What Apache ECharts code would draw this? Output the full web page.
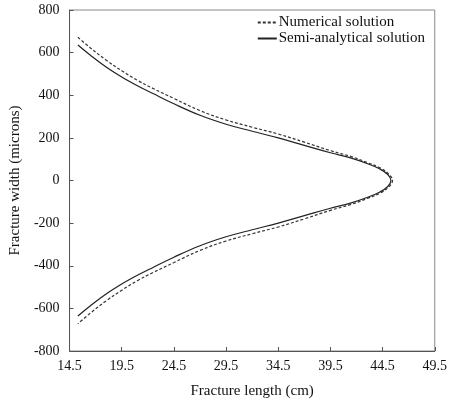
<!DOCTYPE html>
<html>
<head>
<meta charset="utf-8">
<script src="https://cdn.jsdelivr.net/npm/echarts@6/dist/echarts.min.js"></script>
<style>
  html, body { margin: 0; padding: 0; background: #fff; }
  #chart { width: 450px; height: 404px; }
</style>
</head>
<body>
<div id="chart"></div>
<script>
// Fracture profile: length (cm) vs width (microns)
const numLength = [15.3, 16.5, 18.0, 19.5, 21.0, 22.5, 24.5, 27.0, 29.5, 32.0, 34.5, 37.0, 39.5, 41.5, 43.0, 44.3, 45.1, 45.45,
                   45.1, 44.3, 43.0, 41.5, 39.5, 37.0, 34.5, 32.0, 29.5, 27.0, 24.5, 22.5, 21.0, 19.5, 18.0, 16.5, 15.3];
const numWidth = [672, 622, 565, 515, 470, 432, 385, 328, 284, 250, 218, 180, 140, 112, 85, 58, 30, 0,
                  -30, -58, -85, -112, -140, -180, -218, -250, -284, -328, -385, -432, -470, -515, -565, -622, -672];
const semiLength = [15.3, 16.5, 18.0, 19.5, 21.0, 22.5, 24.5, 27.0, 29.5, 32.0, 34.5, 37.0, 39.5, 41.5, 43.0, 44.2, 45.0, 45.3,
                    45.0, 44.2, 43.0, 41.5, 39.5, 37.0, 34.5, 32.0, 29.5, 27.0, 24.5, 22.5, 21.0, 19.5, 18.0, 16.5, 15.3];
const semiWidth = [636, 588, 533, 486, 445, 408, 360, 306, 264, 231, 200, 165, 130, 105, 80, 55, 28, 0,
                   -28, -55, -80, -105, -130, -165, -200, -231, -264, -306, -360, -408, -445, -486, -533, -588, -636];

const FONT = '"Liberation Serif", "DejaVu Serif", serif';
const pairs = (xs, ys) => xs.map((x, i) => [x, ys[i]]);

const chart = echarts.init(document.getElementById('chart'));
chart.setOption({
  animation: false,
  backgroundColor: '#fff',
  textStyle: { fontFamily: FONT },
  grid: {
    left: 66, right: 12, top: 10, bottom: 52,
    show: true, borderColor: '#888', borderWidth: 1
  },
  legend: {
    orient: 'vertical',
    right: 20, top: 10,
    itemWidth: 19, itemHeight: 14, itemGap: 1,
    itemStyle: { opacity: 0 },
    textStyle: { fontFamily: FONT, fontSize: 15, color: '#111', padding: [0, 0, 0, -3] },
    data: ['Numerical solution', 'Semi-analytical solution']
  },
  xAxis: {
    type: 'value',
    min: 14.5, max: 49.5, interval: 5,
    name: 'Fracture length (cm)',
    nameLocation: 'middle', nameGap: 33,
    nameTextStyle: { fontFamily: FONT, fontSize: 15, color: '#111' },
    axisLine: { onZero: false, lineStyle: { color: '#555', width: 1 } },
    axisTick: { inside: true, length: 4, lineStyle: { color: '#555' } },
    axisLabel: { fontFamily: FONT, fontSize: 14, color: '#111', margin: 8,
                 formatter: v => v.toFixed(1) },
    splitLine: { show: false }
  },
  yAxis: {
    type: 'value',
    min: -800, max: 800, interval: 200,
    name: 'Fracture width (microns)',
    nameLocation: 'middle', nameGap: 40,
    nameTextStyle: { fontFamily: FONT, fontSize: 15, color: '#111' },
    axisLine: { show: true, onZero: false, lineStyle: { color: '#555', width: 1 } },
    axisTick: { show: true, inside: true, length: 4, lineStyle: { color: '#555' } },
    axisLabel: { fontFamily: FONT, fontSize: 14, color: '#111', margin: 10 },
    splitLine: { show: false }
  },
  series: [
    {
      name: 'Numerical solution',
      type: 'line',
      data: pairs(numLength, numWidth),
      smooth: 0.4,
      symbol: 'none',
      lineStyle: { color: '#333', width: 1.2, type: [3, 2] },
      itemStyle: { color: '#333' }
    },
    {
      name: 'Semi-analytical solution',
      type: 'line',
      data: pairs(semiLength, semiWidth),
      smooth: 0.4,
      symbol: 'none',
      lineStyle: { color: '#222', width: 1.2 },
      itemStyle: { color: '#222' }
    }
  ]
});
</script>
</body>
</html>
